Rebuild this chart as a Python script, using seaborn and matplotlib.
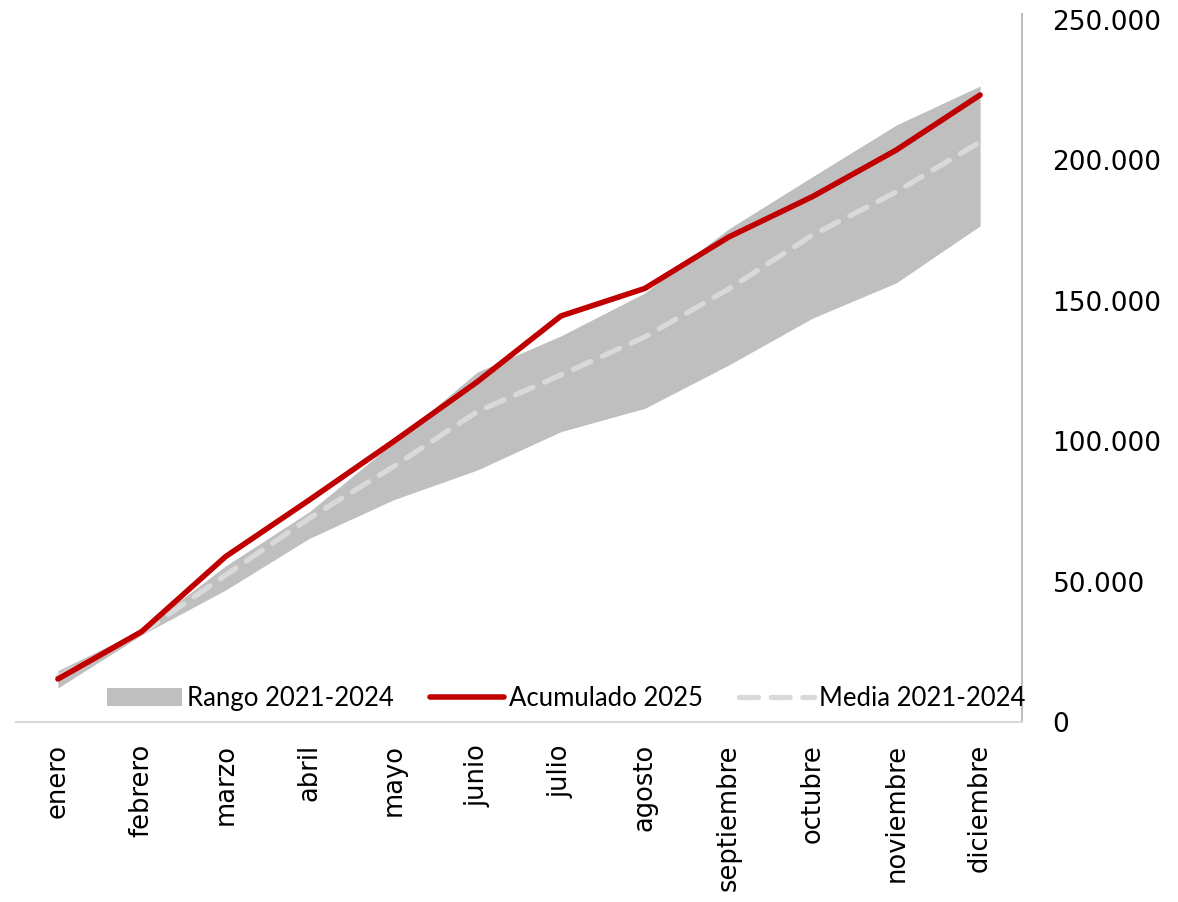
import numpy as np
import pandas as pd
import matplotlib
matplotlib.use("Agg")
import matplotlib.pyplot as plt
import seaborn as sns

meses = ["enero", "febrero", "marzo", "abril", "mayo", "junio", "julio",
         "agosto", "septiembre", "octubre", "noviembre", "diciembre"]
acumulado_2025 = [15300, 32200, 58900, 79100, 99800, 121100, 144600,
                  154400, 172700, 187100, 203700, 223300]
rango_max = [18300, 32800, 55600, 74900, 99400, 124600, 137500,
             152800, 175600, 194200, 212600, 226500]
rango_min = [12100, 31000, 47000, 65400, 79100, 89700, 103400,
             111700, 127100, 143800, 156400, 176700]
media = [16100, 31700, 52300, 72600, 90900, 110500, 123600,
         137100, 154200, 173400, 188800, 206600]

df = pd.DataFrame({"mes": meses, "acumulado": acumulado_2025,
                   "max": rango_max, "min": rango_min, "media": media})
df["x"] = np.arange(len(meses))

sns.set_style("white")
plt.rcParams["font.family"] = ["DejaVu Sans"]

fig = plt.figure(figsize=(11.78, 9.02), dpi=100)
ax = fig.add_axes([0.0136, 0.1996, 0.854, 0.7782])

ax.fill_between(df["x"], df["min"], df["max"], color="#BFBFBF",
                linewidth=0, label="Rango 2021-2024", zorder=1)
sns.lineplot(data=df, x="x", y="acumulado", ax=ax, color="#C00000",
             linewidth=4, label="Acumulado 2025", zorder=3)
sns.lineplot(data=df, x="x", y="media", ax=ax, color="#D9D9D9",
             linewidth=3.8, label="Media 2021-2024", zorder=2)
ax.lines[-1].set_linestyle((0, (3.6, 2.4)))
ax.lines[-1].set_dash_capstyle("round")

ax.set_xlim(-0.5, 11.5)
ax.set_ylim(0, 250000)
ax.set_xticks(df["x"])
ax.set_xticklabels(meses, rotation=90, va="top", ha="center",
                   fontfamily="DejaVu Sans", fontsize=18.5, color="black")
ax.set_yticks([0, 50000, 100000, 150000, 200000, 250000])
ax.set_yticklabels(["0", "50.000", "100.000", "150.000", "200.000", "250.000"],
                   fontfamily="DejaVu Sans", fontsize=19, color="black")
ax.yaxis.tick_right()
ax.tick_params(axis="y", length=0, pad=22)
ax.tick_params(axis="x", length=0, pad=16)
ax.set_xlabel("")
ax.set_ylabel("")

for s in ["top", "left"]:
    ax.spines[s].set_visible(False)
ax.spines["bottom"].set_color("#D9D9D9")
ax.spines["bottom"].set_linewidth(1.5)
ax.spines["right"].set_color("#BFBFBF")
ax.spines["right"].set_linewidth(1.5)
ax.spines["right"].set_bounds(0, 252000)

leg = ax.legend(loc="center", bbox_to_anchor=(0.547, 0.034), ncol=3,
                frameon=False, handlelength=2.9, handletextpad=0.2,
                columnspacing=1.4, prop={"family": "Lato", "size": 18.5})
for t in leg.get_texts():
    t.set_color("black")

fig.savefig("out.png", dpi=100)
